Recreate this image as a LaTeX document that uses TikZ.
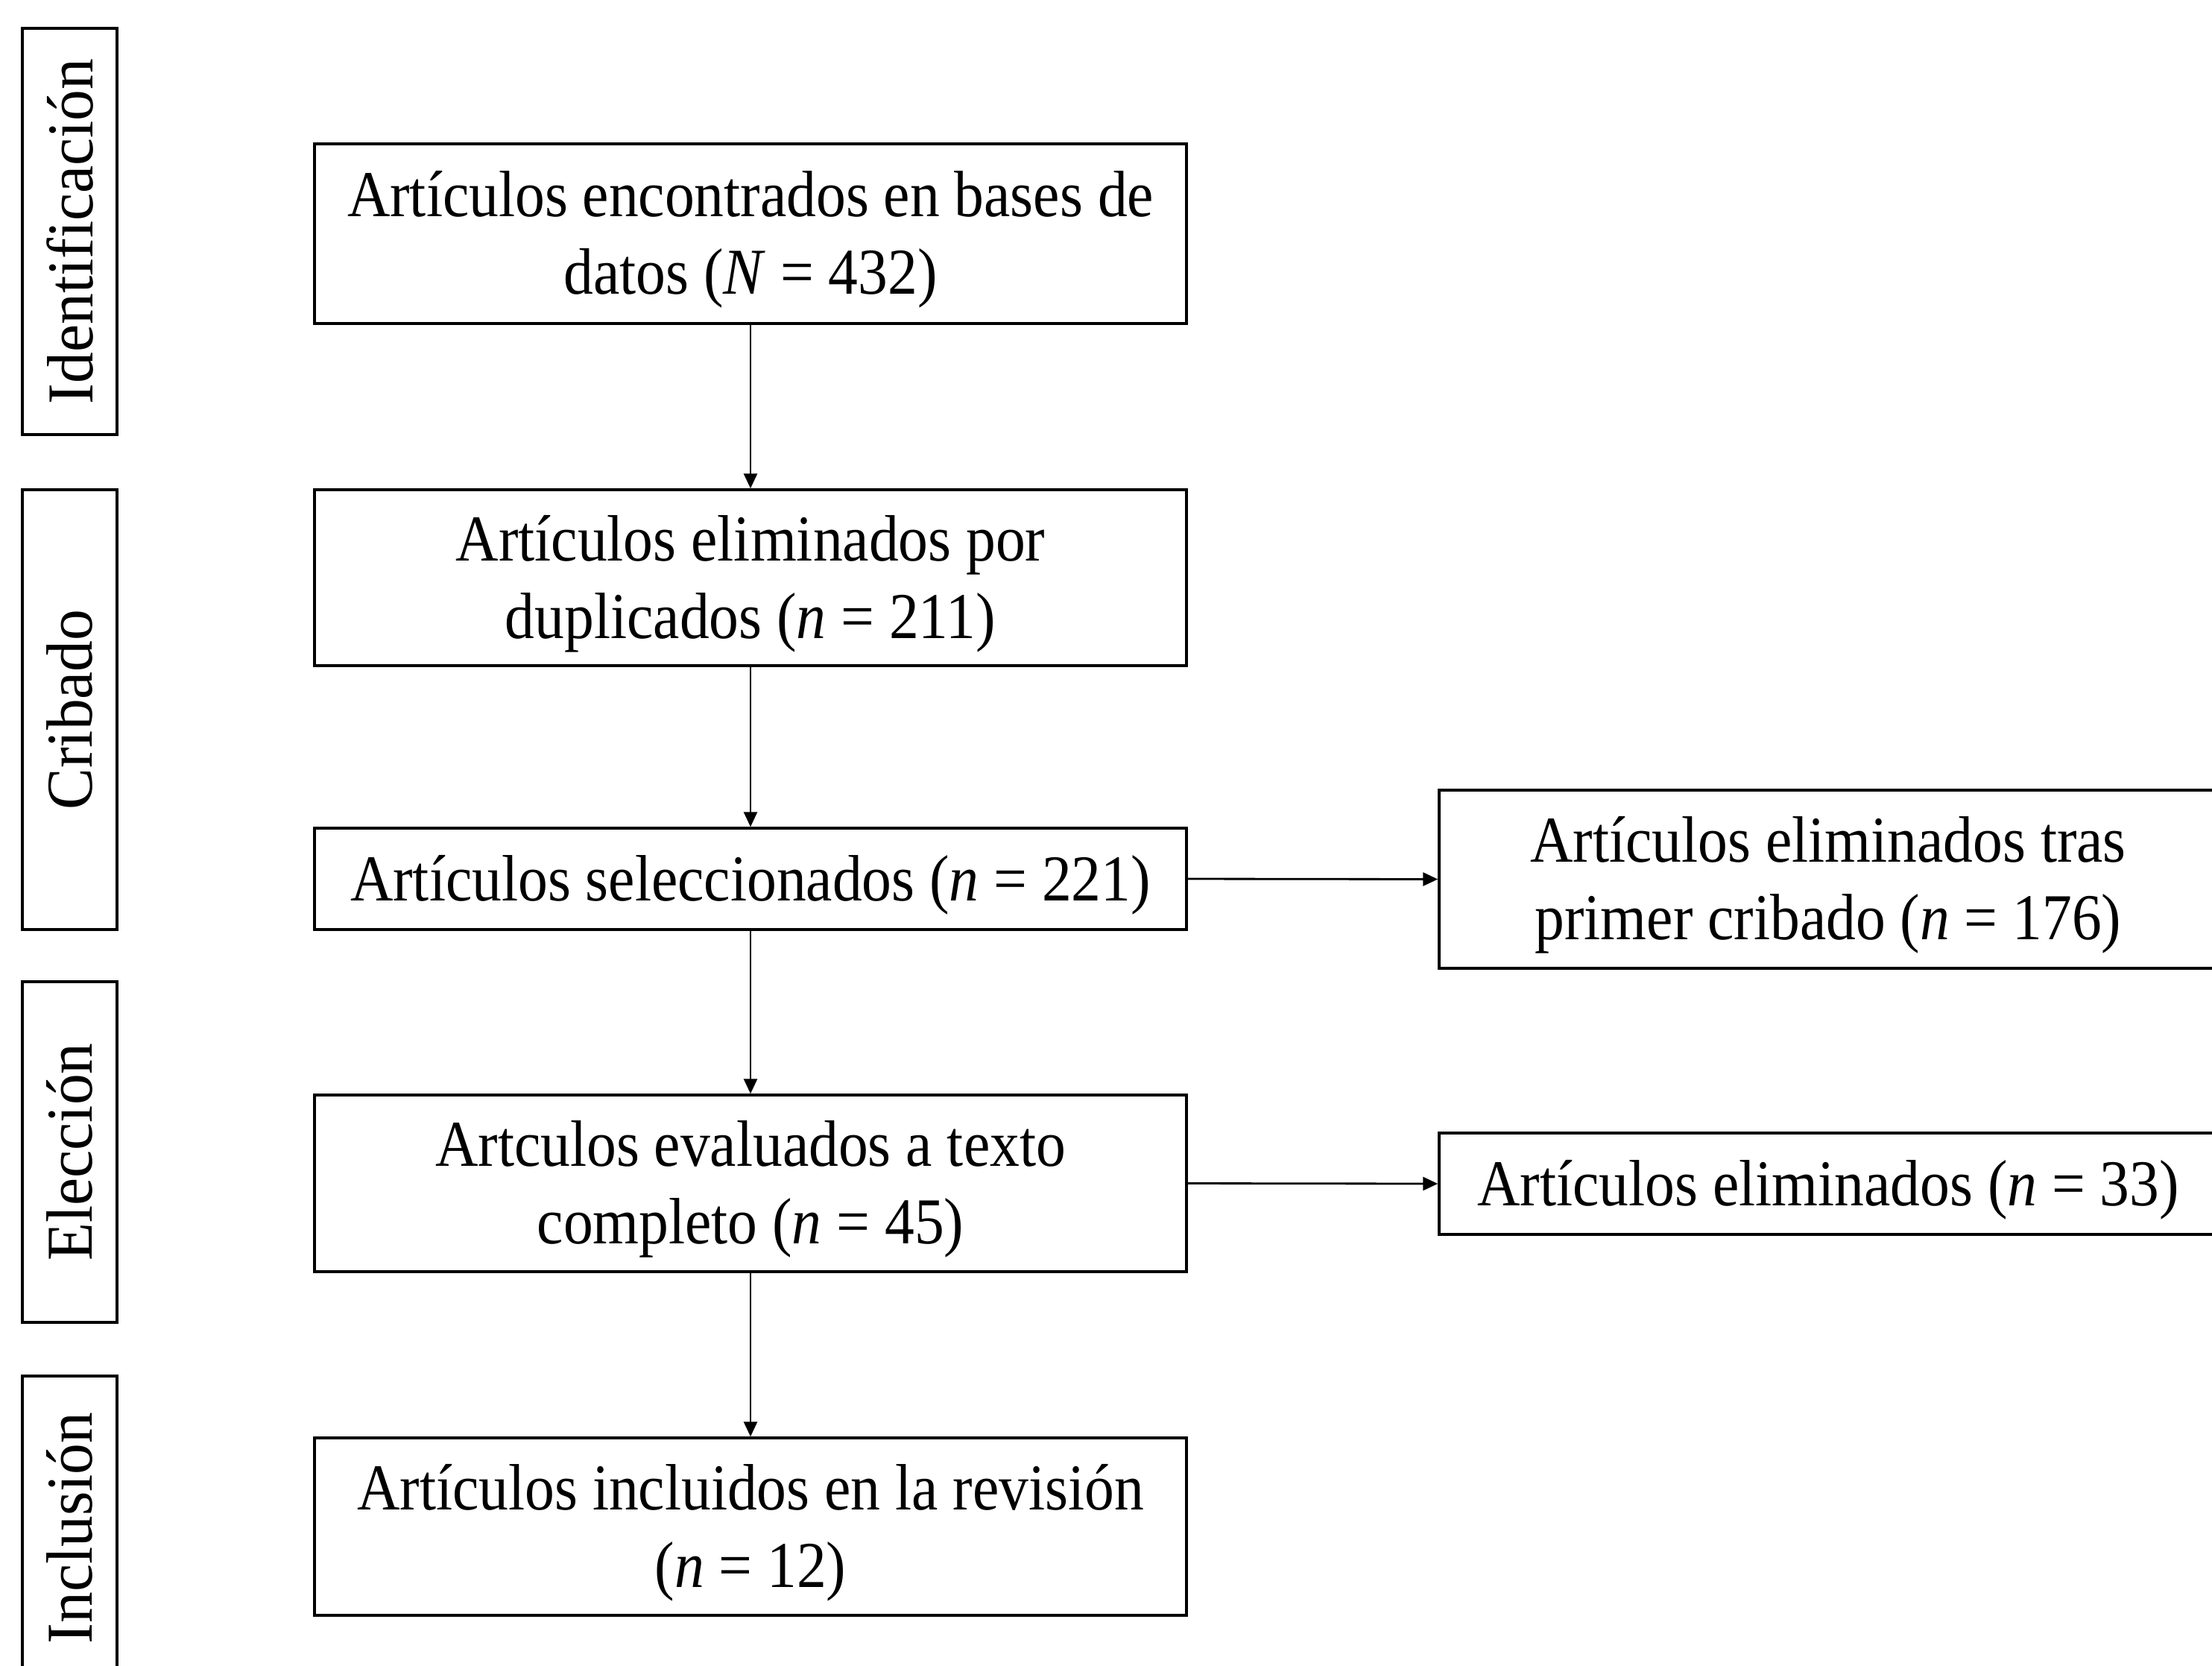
\documentclass[tikz,border=0pt]{standalone}
\usepackage{fontspec}
\setmainfont[FakeStretch=0.905]{Liberation Serif}
\newfontfamily\labfont[FakeStretch=0.95]{Liberation Serif}
\usetikzlibrary{arrows.meta}
\begin{document}
\begin{tikzpicture}[
  every node/.style={font=\fontsize{25}{29.6}\selectfont},
  box/.style={draw, line width=1pt, inner sep=0pt, minimum width=11.70cm},
  rbox/.style={draw, line width=1pt, inner sep=0pt, minimum width=10.44cm},
  txt/.style={align=center, inner sep=0pt},
  lab/.style={draw, line width=1pt, rotate=90, inner sep=0pt, minimum height=1.27cm, font=\labfont\fontsize{25}{29.6}\selectfont},
  conn/.style={line width=0.8pt, -{Triangle[length=0.2cm, width=0.18cm]}}
]
\useasboundingbox (0,0) rectangle (29.68,-22.34);
\fill[white] (0,0) rectangle (29.68,-22.34);

\node[lab, minimum width=5.45cm] (l1) at (0.935,-3.105) {Identificación};
\node[lab, minimum width=5.90cm] (l2) at (0.935,-9.52) {Cribado};
\node[lab, minimum width=4.57cm] (l3) at (0.935,-15.455) {Elección};
\node[lab, minimum width=4.08cm] (l4) at (0.935,-20.50) {Inclusión};

\node[box, minimum height=2.41cm] (b1) at (10.07,-3.135) {};
\node[box, minimum height=2.36cm] (b2) at (10.07,-7.75) {};
\node[box, minimum height=1.36cm] (b3) at (10.07,-11.79) {};
\node[box, minimum height=2.37cm] (b4) at (10.07,-15.875) {};
\node[box, minimum height=2.38cm] (b5) at (10.07,-20.48) {};
\node[rbox, minimum height=2.39cm] (r1) at (24.53,-11.795) {};
\node[rbox, minimum height=1.36cm] (r2) at (24.53,-15.88) {};

\node[txt] (t1) at ([yshift=-0.08cm]b1.center) {Artículos encontrados en bases de\\datos (\textit{N} = 432)};
\node[txt] (t2) at ([yshift=-0.08cm]b2.center) {Artículos eliminados por\\duplicados (\textit{n} = 211)};
\node[txt] (t3) at ([yshift=-0.08cm]b3.center) {Artículos seleccionados (\textit{n} = 221)};
\node[txt] (t4) at ([yshift=-0.08cm]b4.center) {Artculos evaluados a texto\\completo (\textit{n} = 45)};
\node[txt] (t5) at ([yshift=-0.08cm]b5.center) {Artículos incluidos en la revisión\\(\textit{n} = 12)};
\node[txt] (t6) at ([yshift=-0.08cm]r1.center) {Artículos eliminados tras\\primer cribado (\textit{n} = 176)};
\node[txt] (t7) at ([yshift=-0.08cm]r2.center) {Artículos eliminados (\textit{n} = 33)};

\draw[conn] (b1) -- (b2);
\draw[conn] (b2) -- (b3);
\draw[conn] (b3) -- (b4);
\draw[conn] (b4) -- (b5);
\draw[conn] (b3.east) -- (r1.west);
\draw[conn] (b4.east) -- (r2.west);
\end{tikzpicture}
\end{document}
